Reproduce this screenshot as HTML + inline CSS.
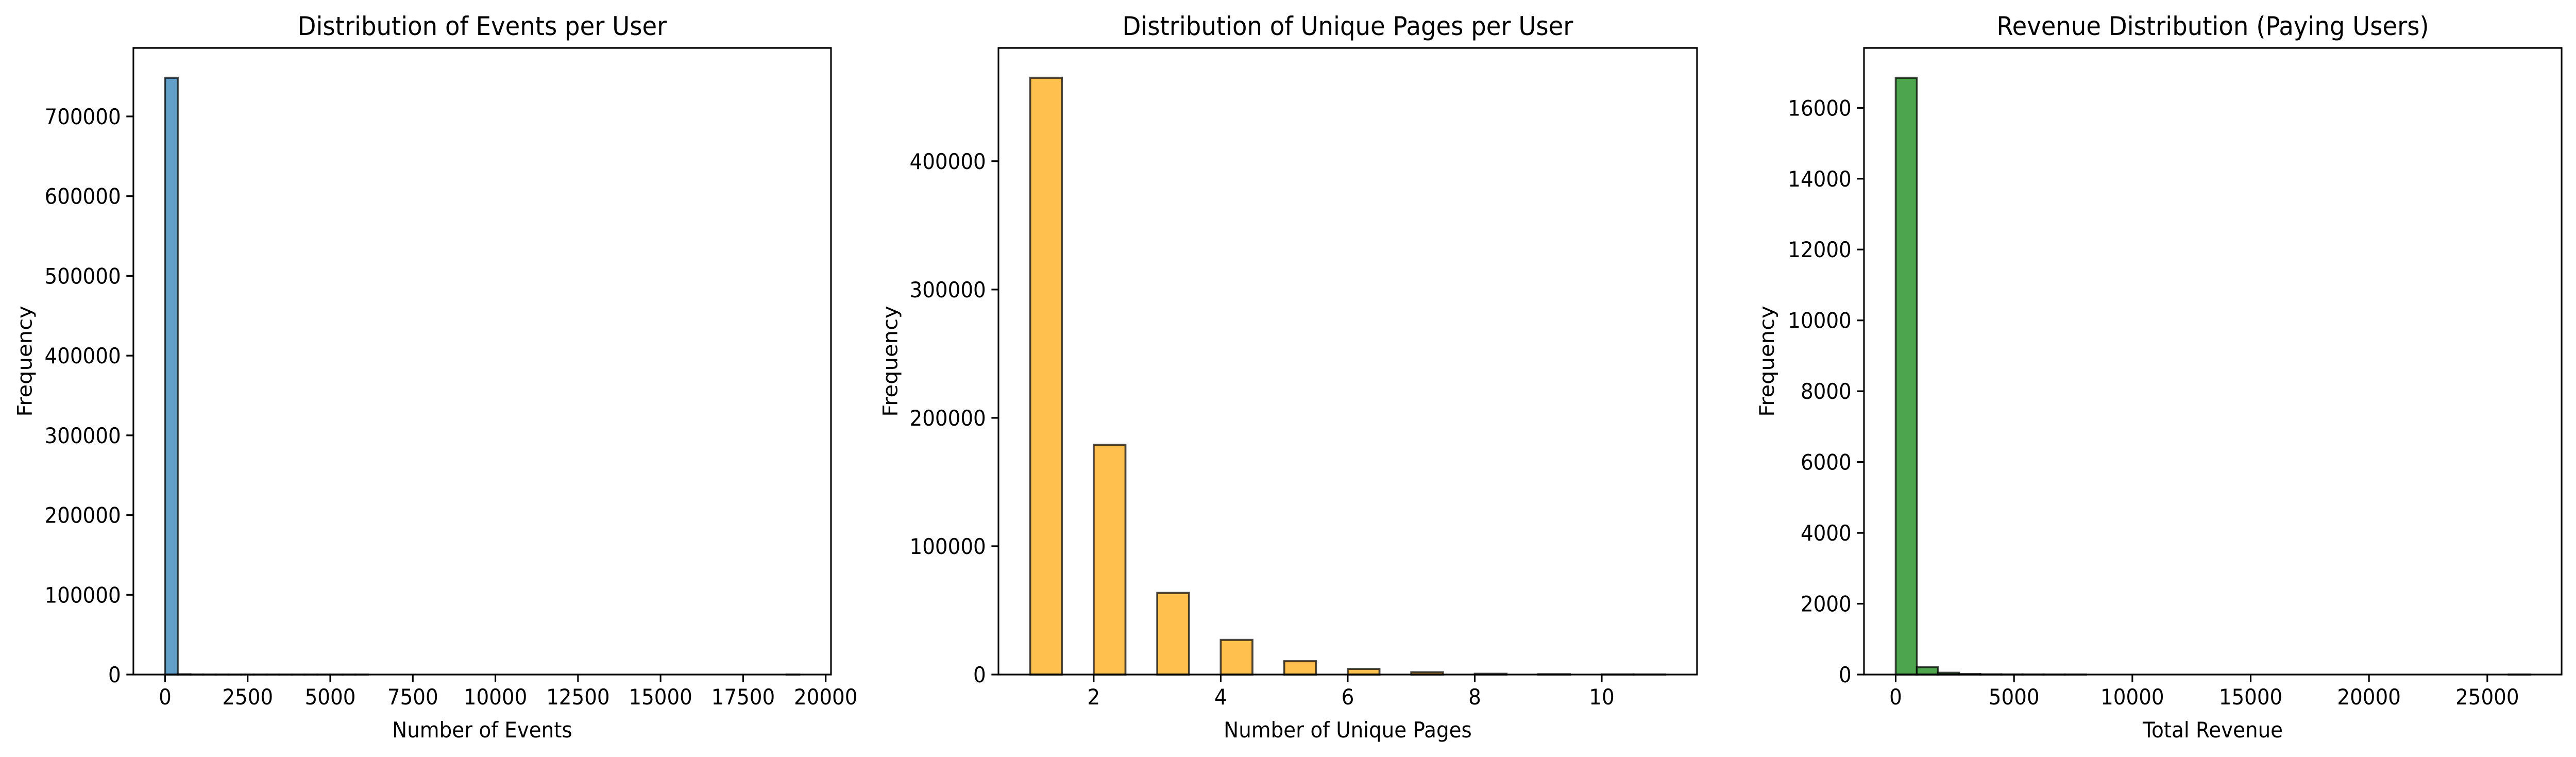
<!DOCTYPE html>
<html><head><meta charset="utf-8"><style>
html,body{margin:0;padding:0;background:#fff;width:100%;height:100%;overflow:hidden;}
svg{display:block;position:absolute;left:0;top:0;width:100vw;height:100vh;font-family:"DejaVu Sans","Liberation Sans",sans-serif;}
</style></head><body>
<svg id="fig" viewBox="0 0 5369 1469" preserveAspectRatio="none" xmlns="http://www.w3.org/2000/svg"></svg>
<script>
// Panel 1: events per user (50 bins over 0..19200)
const eventsBinStart = 0;
const eventsBinWidth = 384;
const eventsCounts = [748500, 300, 60, 20, 10, 5, 3, 2, 2, 1, 1, 1, 1, 1, 1, 1, 0, 0, 0, 0, 0, 0, 0, 0, 0, 0, 0, 0, 0, 0, 0, 0, 0, 0, 0, 0, 0, 0, 0, 0, 0, 0, 0, 0, 0, 0, 0, 0, 0, 1];
const eventsXTicks = [0, 2500, 5000, 7500, 10000, 12500, 15000, 17500, 20000];
const eventsYTicks = [0, 100000, 200000, 300000, 400000, 500000, 600000, 700000];
// Panel 2: unique pages per user (20 bins over 1..11)
const pagesBinStart = 1;
const pagesBinWidth = 0.5;
const pagesCounts = [465000, 0, 179000, 0, 63600, 0, 27000, 0, 10400, 0, 4400, 0, 1800, 0, 600, 0, 250, 0, 100, 60];
const pagesXTicks = [2, 4, 6, 8, 10];
const pagesYTicks = [0, 100000, 200000, 300000, 400000];
// Panel 3: revenue (30 bins over 0..26800)
const revBinStart = 0;
const revBinWidth = 893.33;
const revCounts = [16850, 210, 50, 15, 6, 3, 2, 1, 1, 0, 0, 0, 0, 0, 0, 0, 0, 0, 0, 0, 0, 0, 0, 0, 0, 0, 0, 0, 0, 1];
const revXTicks = [0, 5000, 10000, 15000, 20000, 25000];
const revYTicks = [0, 2000, 4000, 6000, 8000, 10000, 12000, 14000, 16000];

const NS = "http://www.w3.org/2000/svg";
const svg = document.getElementById('fig');
function mk(tag, attrs, parent){
  const e = document.createElementNS(NS, tag);
  for (const k in attrs) e.setAttribute(k, attrs[k]);
  (parent||svg).appendChild(e);
  return e;
}
const TOP = 93, BOT = 1309;

function panel(o){
  const g = mk('g', {});
  
  
  const n = o.counts.length;
  const dmin = o.start, dmax = o.start + o.width*n;
  const pad = (dmax - dmin)*0.05;
  const x0 = dmin - pad, x1 = dmax + pad;
  const ymax = Math.max(...o.counts)*1.05;
  const sx = v => o.left + (v - x0)/(x1 - x0)*(o.right - o.left);
  const sy = v => BOT - v/ymax*(BOT - TOP);
  for (let i=0;i<n;i++){
    const c = o.counts[i];
    if (c <= 0) continue;
    const xa = sx(o.start + i*o.width), xb = sx(o.start + (i+1)*o.width);
    const r = mk('rect', {x:xa, y:sy(c), width:xb-xa, height:BOT-sy(c), fill:o.color, stroke:'#000', 'stroke-opacity':0.7, 'stroke-width':4}, g);
    
    
  }
  const f = mk('rect', {x:o.left, y:TOP, width:o.right-o.left, height:BOT-TOP, fill:'none', stroke:'#000', 'stroke-width':3.3}, g);
  
  
  o.xticks.forEach(t => {
    const x = sx(t);
    mk('line', {x1:x, x2:x, y1:BOT, y2:BOT+14.6, stroke:'#000', 'stroke-width':3.3}, g);
    const tx = mk('text', {x:x, y:BOT+58, 'font-size':41.7, 'text-anchor':'middle', fill:'#000'}, g);
    tx.textContent = String(t);
    
    
  });
  o.yticks.forEach(t => {
    const y = sy(t);
    mk('line', {x1:o.left-14.6, x2:o.left, y1:y, y2:y, stroke:'#000', 'stroke-width':3.3}, g);
    const tx = mk('text', {x:o.left-26, y:y+15, 'font-size':41.7, 'text-anchor':'end', fill:'#000'}, g);
    tx.textContent = String(t);
    
    
  });
  const cx = (o.left+o.right)/2;
  const ti = mk('text', {x:cx, y:68, 'font-size':50, 'text-anchor':'middle', fill:'#000'}, g);
  ti.textContent = o.title;
  
  
  const xl = mk('text', {x:cx, y:1431, 'font-size':41.7, 'text-anchor':'middle', fill:'#000'}, g);
  xl.textContent = o.xlabel;
  
  
  const yc = (TOP+BOT)/2;
  const yl = mk('text', {x:o.ylx, y:yc, 'font-size':41.7, 'text-anchor':'middle', fill:'#000', transform:`rotate(-90 ${o.ylx} ${yc})`}, g);
  yl.textContent = 'Frequency';
  
  
}

panel({name:'events-histogram', left:278, right:1732, counts:eventsCounts, start:eventsBinStart, width:eventsBinWidth,
  color:'#62a0ca', xticks:eventsXTicks, yticks:eventsYTicks, title:'Distribution of Events per User', xlabel:'Number of Events', ylx:66});
panel({name:'unique-pages-histogram', left:2081, right:3537, counts:pagesCounts, start:pagesBinStart, width:pagesBinWidth,
  color:'#ffc04d', xticks:pagesXTicks, yticks:pagesYTicks, title:'Distribution of Unique Pages per User', xlabel:'Number of Unique Pages', ylx:1870});
panel({name:'revenue-histogram', left:3885, right:5339, counts:revCounts, start:revBinStart, width:revBinWidth,
  color:'#4da64d', xticks:revXTicks, yticks:revYTicks, title:'Revenue Distribution (Paying Users)', xlabel:'Total Revenue', ylx:3697});
</script>
</body></html>
